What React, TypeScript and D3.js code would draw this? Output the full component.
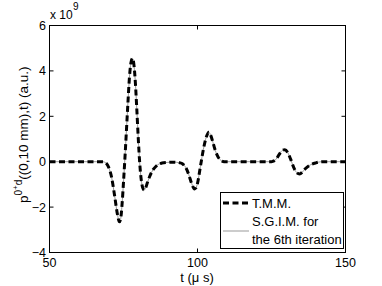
import React from "react";
import * as d3 from "d3";

const times = [50, 60, 66, 68, 69, 70, 71, 72, 73, 73.6, 74, 74.5, 75, 75.5, 76, 76.5, 77, 77.5, 78, 78.5, 79, 79.5, 80, 80.5, 81, 81.5, 82, 82.5, 83, 84, 85, 86, 87, 88, 90, 92, 94, 95, 96, 97, 98, 99, 99.5, 100, 101, 102, 103, 103.8, 104.5, 105, 106, 107, 108, 109, 112, 120, 125, 125.5, 126.5, 127.5, 128.5, 129.5, 130.5, 131.5, 132.5, 133.5, 134.5, 135.5, 136.5, 138, 140, 142, 146, 150];
const tmmValues = [0, 0, 0, 0, -0.05, -0.25, -0.7, -1.5, -2.35, -2.65, -2.55, -1.9, -0.9, 0.2, 1.4, 2.6, 3.7, 4.35, 4.55, 4.3, 3.5, 2.3, 1.0, -0.1, -0.8, -1.15, -1.25, -1.15, -0.95, -0.6, -0.35, -0.2, -0.1, -0.06, -0.03, -0.02, -0.05, -0.1, -0.25, -0.55, -0.95, -1.2, -1.15, -0.95, -0.2, 0.55, 1.1, 1.3, 1.15, 0.95, 0.5, 0.2, 0.05, 0, 0, 0, 0, 0.02, 0.1, 0.3, 0.48, 0.53, 0.4, 0.1, -0.25, -0.48, -0.54, -0.45, -0.3, -0.15, -0.05, 0, 0, 0];
const sgimValues = tmmValues.slice();
const xTicks = [50, 100, 150];
const yTicks = [-4, -2, 0, 2, 4, 6];

export default function App() {
  const left = 49.5, right = 345.5, top = 25.5, bottom = 252.5;
  const x = d3.scaleLinear().domain([50, 150]).range([left, right]);
  const y = d3.scaleLinear().domain([-4, 6]).range([bottom, top]);
  const line = d3
    .line<number>()
    .x((_, i) => x(times[i]))
    .y((d) => y(d))
    .curve(d3.curveMonotoneX);
  const font = "'Liberation Sans', Arial, Helvetica, sans-serif";
  const tl = 4;
  return (
    <svg width={382} height={286} style={{ position: "absolute", left: 0, top: 0 }} fontFamily={font}>
      <rect x={0} y={0} width={382} height={286} fill="white" />
      <path d={line(sgimValues) || ""} fill="none" stroke="#999" strokeWidth={1} />
      <path d={line(tmmValues) || ""} fill="none" stroke="black" strokeWidth={3} strokeDasharray="6 3.5" />
      <rect x={left} y={top} width={right - left} height={bottom - top} fill="none" stroke="black" strokeWidth={1} />
      {xTicks.map((t) => (
        <g key={"x" + t}>
          <line x1={x(t)} x2={x(t)} y1={bottom} y2={bottom - tl} stroke="black" />
          <line x1={x(t)} x2={x(t)} y1={top} y2={top + tl} stroke="black" />
          <text x={x(t)} y={267} fontSize={12.5} textAnchor="middle">{t}</text>
        </g>
      ))}
      {yTicks.map((t) => (
        <g key={"y" + t}>
          <line x1={left} x2={left + tl} y1={y(t)} y2={y(t)} stroke="black" />
          <line x1={right} x2={right - tl} y1={y(t)} y2={y(t)} stroke="black" />
          <text x={46} y={y(t) + 4.5} fontSize={12.5} textAnchor="end">{t === -4 || t === -2 ? "\u2212" + Math.abs(t) : t}</text>
        </g>
      ))}
      <text x={50} y={19} fontSize={12}>x 10</text>
      <text x={73} y={10} fontSize={10}>9</text>
      <text x={197} y={282} fontSize={13} textAnchor="middle">t (μ s)</text>
      <g transform="translate(28,203) rotate(-90)">
        <text x={0} y={0} fontSize={13.5}>
          <tspan>p</tspan>
          <tspan dy={-6} fontSize={10}>0</tspan>
          <tspan dy={-4} fontSize={8}>+</tspan>
          <tspan dy={4} fontSize={10}>d</tspan>
          <tspan dy={6}>((0,10 mm),t) (a.u.)</tspan>
        </text>
      </g>
      <rect x={220.5} y={192.5} width={123} height={56} fill="white" stroke="black" strokeWidth={1} />
      <line x1={223} x2={249} y1={203} y2={203} stroke="black" strokeWidth={3} strokeDasharray="6 3.5" />
      <text x={252} y={207.5} fontSize={13}>T.M.M.</text>
      <line x1={223} x2={249} y1={231} y2={231} stroke="#999" strokeWidth={1} />
      <text x={252} y={226} fontSize={13}>S.G.I.M. for</text>
      <text x={252} y={244} fontSize={13}>the 6th iteration</text>
    </svg>
  );
}
